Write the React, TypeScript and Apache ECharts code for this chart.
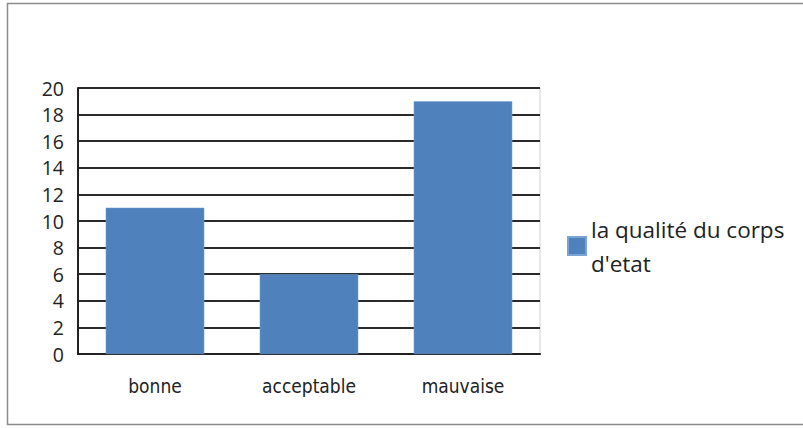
import React, { useEffect, useRef } from "react";
import * as echarts from "echarts";

const categories = ["bonne", "acceptable", "mauvaise"];
const values = [11, 6, 19];
const seriesName = "la qualité du corps d'etat";
const legendLabel = "la qualité du corps\nd'etat";

export default function App() {
  const ref = useRef<HTMLDivElement>(null);
  useEffect(() => {
    if (!ref.current) return;
    const chart = echarts.init(ref.current, null, { renderer: "svg" });
    chart.setOption({
      animation: false,
      backgroundColor: "#ffffff",
      graphic: [
        {
          type: "rect",
          shape: { x: 7.5, y: 3.5, width: 820, height: 421 },
          style: { fill: "none", stroke: "#8c8c8c", lineWidth: 1.5 },
          silent: true,
          z: -1,
        },
      ],
      grid: {
        left: 78,
        top: 88,
        right: 263,
        bottom: 74,
        show: true,
        borderColor: "#cfcfcf",
        borderWidth: 1,
        backgroundColor: "transparent",
      },
      xAxis: {
        type: "category",
        data: categories,
        axisLine: { show: true, lineStyle: { color: "#222", width: 2 } },
        axisTick: { show: false },
        axisLabel: {
          margin: 22,
          fontSize: 19,
          fontFamily: "DejaVu Sans Condensed",
          color: "#222",
        },
      },
      yAxis: {
        type: "value",
        min: 0,
        max: 20,
        interval: 2,
        axisLine: { show: true, lineStyle: { color: "#222", width: 2 } },
        axisTick: { show: false },
        splitLine: { show: true, lineStyle: { color: "#2a2a2a", width: 2 } },
        axisLabel: {
          margin: 14,
          fontSize: 19.5,
          fontFamily: "Open Sans",
          color: "#222",
        },
      },
      legend: {
        show: true,
        left: 567,
        top: 212,
        padding: 0,
        orient: "vertical",
        icon: "rect",
        itemWidth: 18,
        itemHeight: 18,
        itemGap: 6,
        formatter: () => legendLabel,
        textStyle: {
          fontSize: 22.5,
          fontFamily: "Open Sans",
          color: "#222",
          lineHeight: 34,
        },
        data: [seriesName],
      },
      series: [
        {
          name: seriesName,
          type: "bar",
          data: values,
          barCategoryGap: "36%",
          itemStyle: { color: "#4f81bd", borderColor: "#7aa3d6", borderWidth: 0.5 },
        },
      ],
    });
    return () => chart.dispose();
  }, []);
  return (
    <div
      ref={ref}
      style={{ position: "absolute", left: 0, top: 0, width: 803, height: 428 }}
    />
  );
}
